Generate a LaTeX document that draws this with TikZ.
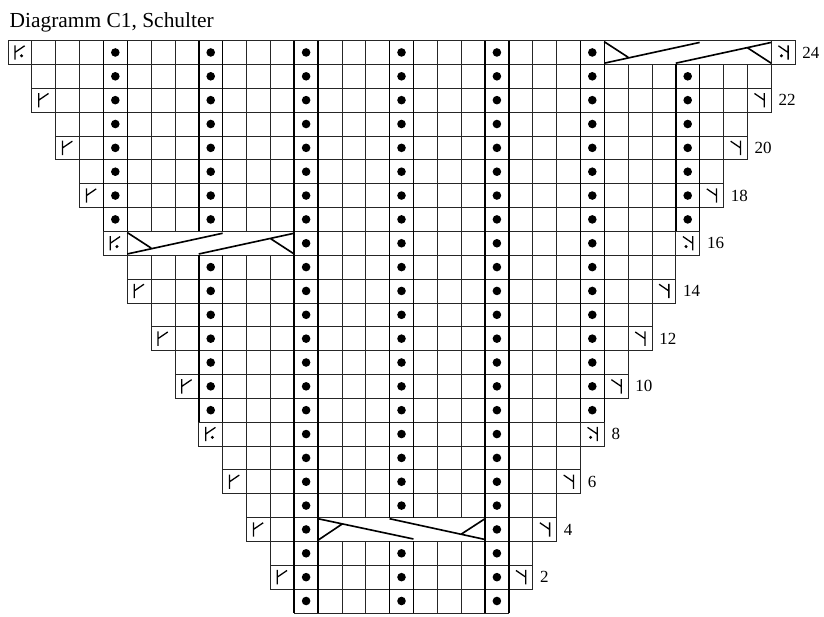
\documentclass[tikz,border=0pt]{standalone}
\usepackage{fontspec}
\setmainfont{Liberation Serif}
\begin{document}
\begin{tikzpicture}[
  x=0.72cm, y=0.72cm,
  cell/.style={draw=black!85, line width=0.6pt},
  dotcol/.style={line width=1.25pt},
  cablebox/.style={draw=black!85, fill=white, line width=0.6pt},
  cable/.style={line width=1.4pt},
  stitch/.style={line width=1.1pt},
  lk/.pic={\draw[stitch] (0.29,0.2) -- (0.29,0.8) (0.29,0.5) -- (0.7,0.78);},
  rk/.pic={\draw[stitch] (0.71,0.2) -- (0.71,0.8) (0.71,0.5) -- (0.3,0.78);},
  lkdot/.pic={\pic {lk}; \fill (0.57,0.36) circle (0.07);},
  rkdot/.pic={\pic {rk}; \fill (0.43,0.36) circle (0.07);},
  rowlabel/.style={anchor=west, inner sep=0, font=\fontsize{14.6}{17}\selectfont}
]
\useasboundingbox (-0.335,-0.17) rectangle (34.215,25.70);
\node[anchor=base west, inner sep=0, font=\fontsize{18.4}{22}\selectfont] (title) at (0.06,24.55) {Diagramm C1, Schulter};

% grid, one row at a time
\foreach \r in {1,...,24}{
  \pgfmathtruncatemacro\L{12-floor(\r/2)}
  \pgfmathtruncatemacro\R{32-\L}
  \foreach \c in {\L,...,\R}
    \draw[cell] (\c,\r-1) rectangle ++(1,1);
}

% cables
\draw[cablebox] (5,15) rectangle (12,16);
\draw[cablebox] (25,23) rectangle (32,24);
\draw[cablebox] (13,3) rectangle (20,4);
\begin{scope}[shift={(5,15)}]
  \draw[cable] (0,0.95) -- (1,0.3) (0,0.05) -- (4,0.92) (3,0.05) -- (7,0.92) (6,0.7) -- (7,0.05);
\end{scope}
\begin{scope}[shift={(25,23)}]
  \draw[cable] (0,0.95) -- (1,0.3) (0,0.05) -- (4,0.92) (3,0.05) -- (7,0.92) (6,0.7) -- (7,0.05);
\end{scope}
\begin{scope}[shift={(13,3)}]
  \draw[cable] (0,0.95) -- (4,0.1) (0,0.05) -- (1,0.72) (3,0.95) -- (7,0.08) (6,0.3) -- (7,0.95);
\end{scope}

% purl columns: column/first row/last row
\foreach \d/\a/\b in {4/17/24, 8/9/15, 8/17/24, 12/1/24, 16/1/3, 16/5/24, 20/1/24, 24/9/24, 28/17/23}{
  \foreach \r in {\a,...,\b}
    \fill (\d+0.5,\r-0.5) circle (0.18);
  \draw[dotcol] (\d,\a-1) -- (\d,\b) (\d+1,\a-1) -- (\d+1,\b);
}

% decreases at the row ends
\foreach \c/\r in {1/22, 2/20, 3/18, 5/14, 6/12, 7/10, 9/6, 10/4, 11/2}
  \pic at (\c,\r-1) {lk};
\foreach \c/\r in {31/22, 30/20, 29/18, 27/14, 26/12, 25/10, 23/6, 22/4, 21/2}
  \pic at (\c,\r-1) {rk};
\foreach \c/\r in {0/24, 4/16, 8/8}
  \pic at (\c,\r-1) {lkdot};
\foreach \c/\r in {32/24, 28/16, 24/8}
  \pic at (\c,\r-1) {rkdot};

% row numbers
\foreach \r in {2,4,...,24}
  \node[rowlabel] (lbl\r) at (21.3+\r/2,\r-0.5) {\r};
\end{tikzpicture}
\end{document}
